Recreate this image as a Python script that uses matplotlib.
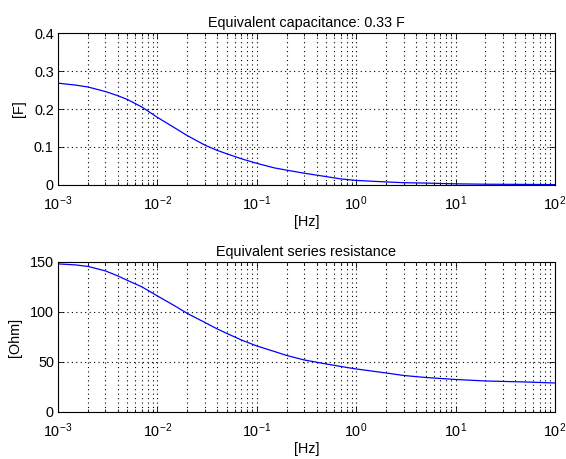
import matplotlib.pyplot as plt
from matplotlib.ticker import FuncFormatter, LogLocator, NullFormatter

# data
freq = [1e-3, 1.5e-3, 2e-3, 3e-3, 4e-3, 5e-3, 7e-3,
        1e-2, 1.5e-2, 2e-2, 3e-2, 4e-2, 5e-2, 7e-2,
        1e-1, 1.5e-1, 2e-1, 3e-1, 5e-1, 7e-1,
        1, 2, 3, 5, 10, 20, 50, 100]
capacitance = [0.268, 0.263, 0.258, 0.246, 0.235, 0.225, 0.205,
               0.178, 0.150, 0.130, 0.105, 0.091, 0.082, 0.069,
               0.057, 0.045, 0.039, 0.031, 0.022, 0.016,
               0.012, 0.008, 0.006, 0.005, 0.003, 0.002, 0.0015, 0.001]
resistance = [148, 147, 145.5, 141, 136, 131.5, 125,
              116, 106, 98.5, 89.5, 83, 78.5, 72,
              66, 60.5, 56.5, 52, 48, 45.5,
              43, 39, 36.5, 34.5, 32.5, 31, 30, 29]

cap_ticks = [0, 0.1, 0.2, 0.3, 0.4]
res_ticks = [0, 50, 100, 150]

plt.rcParams['font.family'] = ['Liberation Sans', 'DejaVu Sans']
plt.rcParams['font.size'] = 10.4
plt.rcParams['mathtext.default'] = 'regular'
plt.rcParams['axes.unicode_minus'] = False

fig = plt.figure(figsize=(5.66, 4.59), dpi=100)
ax1 = fig.add_axes([0.1025, 0.597, 0.878, 0.331])
ax2 = fig.add_axes([0.1025, 0.1024, 0.878, 0.327])


def style(ax, yticks, ylabel, title):
    ax.set_xscale('log')
    ax.set_xlim(1e-3, 100)
    ax.set_ylim(yticks[0], yticks[-1])
    ax.set_yticks(yticks)
    ax.yaxis.set_major_formatter(FuncFormatter(lambda v, p: '%g' % v))
    ax.xaxis.set_major_locator(LogLocator(base=10, numticks=10))
    ax.xaxis.set_minor_locator(LogLocator(base=10, subs=range(2, 10), numticks=10))
    ax.xaxis.set_minor_formatter(NullFormatter())
    ax.grid(True, which='major', color='black', linestyle=(0, (1, 3)), linewidth=0.8)
    ax.grid(True, which='minor', axis='x', color='black', linestyle=(0, (1, 3)), linewidth=0.8)
    ax.tick_params(direction='in', top=True, right=True, which='both', length=4, width=0.6)
    ax.tick_params(which='minor', length=2.5)
    ax.tick_params(axis='x', pad=7)
    ax.tick_params(axis='y', pad=3)
    for s in ax.spines.values():
        s.set_linewidth(0.8)
    ax.set_xlabel('[Hz]', labelpad=1)
    ax.set_ylabel(ylabel, labelpad=6)
    ax.set_title(title, fontsize=10.4, pad=4)


ax1.plot(freq, capacitance, color='#0000ff', linewidth=0.9)
style(ax1, cap_ticks, '[F]', 'Equivalent capacitance: 0.33 F')

ax2.plot(freq, resistance, color='#0000ff', linewidth=0.9)
style(ax2, res_ticks, '[Ohm]', 'Equivalent series resistance')

fig.savefig('out.png', dpi=100)
